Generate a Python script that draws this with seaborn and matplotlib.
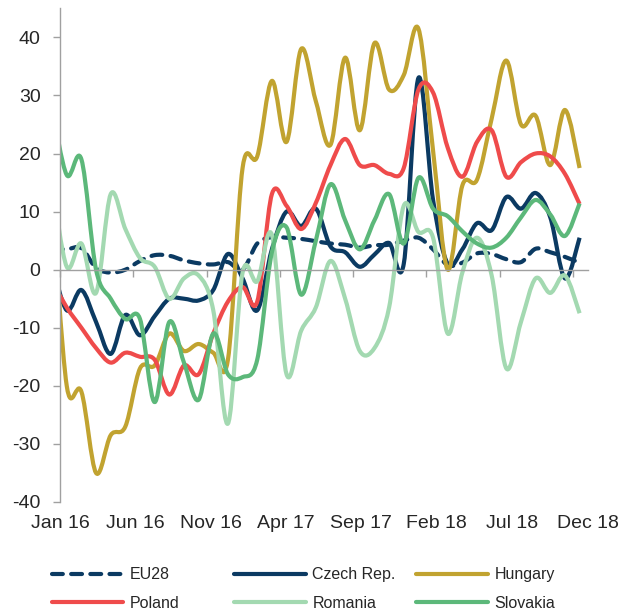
import numpy as np
import matplotlib
matplotlib.use("Agg")
import matplotlib.pyplot as plt
from matplotlib.path import Path
from matplotlib.patches import PathPatch
from matplotlib.lines import Line2D
import seaborn as sns

# Monthly values, Dec 15 (mostly hidden left of the axis) to Dec 18
eu28 = [3.5, 3.5, 3.7, 0.3, -0.5, 0, 1.5, 2.5, 2.4, 1.6, 1.1, 0.9, 1.3, 0, 4.5, 5.6, 5.5,
        5.3, 4.9, 4.5, 4.3, 3.8, 4.2, 4.3, 5, 5.5, 3.5, 0.8, 1.2, 2.8, 2.7, 1.8, 1.3,
        3.6, 3, 2.2, 1.2]
czech = [1, -7, -3.5, -9, -14.5, -7.8, -11.3, -8, -5, -5, -5.3, -3.5, 2.7, -1.5, -7, 3.5,
         10, 7.5, 10.5, 4, 3, 0.5, 2.6, 4.6, 1, 33, 12, 1, 3.5, 8, 6.8, 12.5, 10.5, 13.2,
         9, -1.5, 5.5]
hungary = [12, -20, -21, -35, -28.5, -27, -17, -16.5, -11, -14, -12.8, -14.3, -15.5, 17.5,
           19.5, 32.5, 22, 38, 29, 21.5, 36.5, 24, 39, 31, 33.5, 41.5, 20.5, 0, 14.5, 15.5,
           26, 36, 25, 26.5, 18, 27.5, 17.5]
poland = [-2, -6.5, -10, -13.5, -16, -14.3, -15, -15.5, -21.5, -16.5, -18, -11, -5.5, -3,
          -5.5, 13, 11, 7, 11.5, 18, 22.5, 18, 18, 16.5, 17.5, 31, 30.5, 21, 16, 22, 24, 16,
          18.5, 20, 19.5, 16.5, 11.3]
romania = [15, 0.5, 4.5, -4, 13, 7, 2, 0.5, -5, -1.5, -1, -7, -26.5, -0.5, -2, 6, -18,
           -10.5, -6.5, 1.5, -5, -14, -13.5, -6.5, 11, 6.5, 5.5, -11, -0.5, 5.5, -1, -17,
           -9, -1.5, -4, -1, -7.5]
slovakia = [28, 16.3, 19, 0, -5, -8.5, -8.5, -22.8, -9, -16, -22.4, -11, -18, -18.5, -15.5,
            3, 7.3, -4.3, 5, 14.7, 8.5, 3.5, 8.5, 13, 4.5, 15.8, 10.5, 9.2, 6.6, 4.5, 3.8,
            5.5, 9, 12, 9.5, 5.8, 11.4]

# months since Jan 2016, points sit mid-month
month_pos = np.arange(-1, 36) + 0.46
tick_labels = ["Jan 16", "Jun 16", "Nov 16", "Apr 17", "Sep 17", "Feb 18", "Jul 18", "Dec 18"]
tick_months = np.arange(0, 36, 5)
# Excel spreads the date labels evenly over the whole axis
label_pos = np.linspace(0, 36, len(tick_labels))

series = [
    ("EU28", eu28, "#0B3A62", "dashed"),
    ("Czech Rep.", czech, "#0B3A62", "solid"),
    ("Hungary", hungary, "#C1A330", "solid"),
    ("Poland", poland, "#EF4B4B", "solid"),
    ("Romania", romania, "#A3D9B1", "solid"),
    ("Slovakia", slovakia, "#5CB87A", "solid"),
]


def smooth_path(xs, ys):
    # Excel-style smoothed line: cubic bezier through every point
    pts = np.column_stack([xs, ys])
    prev = np.vstack([pts[:1], pts[:-1]])
    nxt = np.vstack([pts[1:], pts[-1:]])
    tang = (nxt - prev) / 6
    verts = [pts[0]]
    codes = [Path.MOVETO]
    for i in range(len(pts) - 1):
        verts += [pts[i] + tang[i], pts[i + 1] - tang[i + 1], pts[i + 1]]
        codes += [Path.CURVE4] * 3
    return Path(verts, codes)


sns.set_theme(style="white")
plt.rcParams["font.family"] = ["Liberation Sans", "DejaVu Sans"]
plt.rcParams["axes.unicode_minus"] = False

gray = "#A0A0A0"
txt = "#262626"

fig = plt.figure(figsize=(6.19, 6.12), dpi=100)
ax = fig.add_axes([60 / 619, 1 - 502 / 612, 527.5 / 619, (502 - 8.3) / 612])

handles = {}
for name, vals, color, style in series:
    ls = (0, (2.6, 2.0)) if style == "dashed" else "solid"
    patch = PathPatch(smooth_path(month_pos, vals), fill=False, edgecolor=color, lw=3,
                      linestyle=ls, capstyle="round" if style == "dashed" else "butt",
                      joinstyle="round")
    ax.add_patch(patch)
    handles[name] = Line2D([], [], color=color, lw=3, linestyle=ls,
                           dash_capstyle="round")

ax.set_xlim(0, 36)
ax.set_ylim(-40, 45)

# axes look
for s in ["top", "right"]:
    ax.spines[s].set_visible(False)
ax.spines["left"].set_color(gray)
ax.spines["left"].set_linewidth(1)
ax.spines["bottom"].set_color(gray)
ax.spines["bottom"].set_linewidth(1)
ax.spines["bottom"].set_position(("data", 0))

ax.set_yticks(range(-40, 41, 10))
ax.tick_params(axis="y", direction="out", length=5, width=1, color=gray, pad=9,
               labelsize=14, labelcolor=txt, left=True)
ax.set_xticks(tick_months)
ax.tick_params(axis="x", direction="out", length=5, width=1, color=gray,
               labelbottom=False, bottom=True)

sec = ax.secondary_xaxis("bottom")
sec.set_xticks(label_pos, labels=tick_labels)
sec.tick_params(length=0, pad=9, labelsize=14, labelcolor=txt)
sec.spines["bottom"].set_visible(False)

# legend: three fixed-width columns like the original
columns = [["EU28", "Poland"], ["Czech Rep.", "Romania"], ["Hungary", "Slovakia"]]
col_x = [51.6, 234, 416]
for names, x in zip(columns, col_x):
    fig.legend([handles[n] for n in names], names, loc="center left",
               bbox_to_anchor=(x / 619, 1 - 589 / 612), frameon=False, fontsize=11.5,
               handlelength=4.5, handletextpad=0.4, labelspacing=0.85, borderpad=0,
               borderaxespad=0, labelcolor=txt)

fig.savefig("out.png", dpi=100)
